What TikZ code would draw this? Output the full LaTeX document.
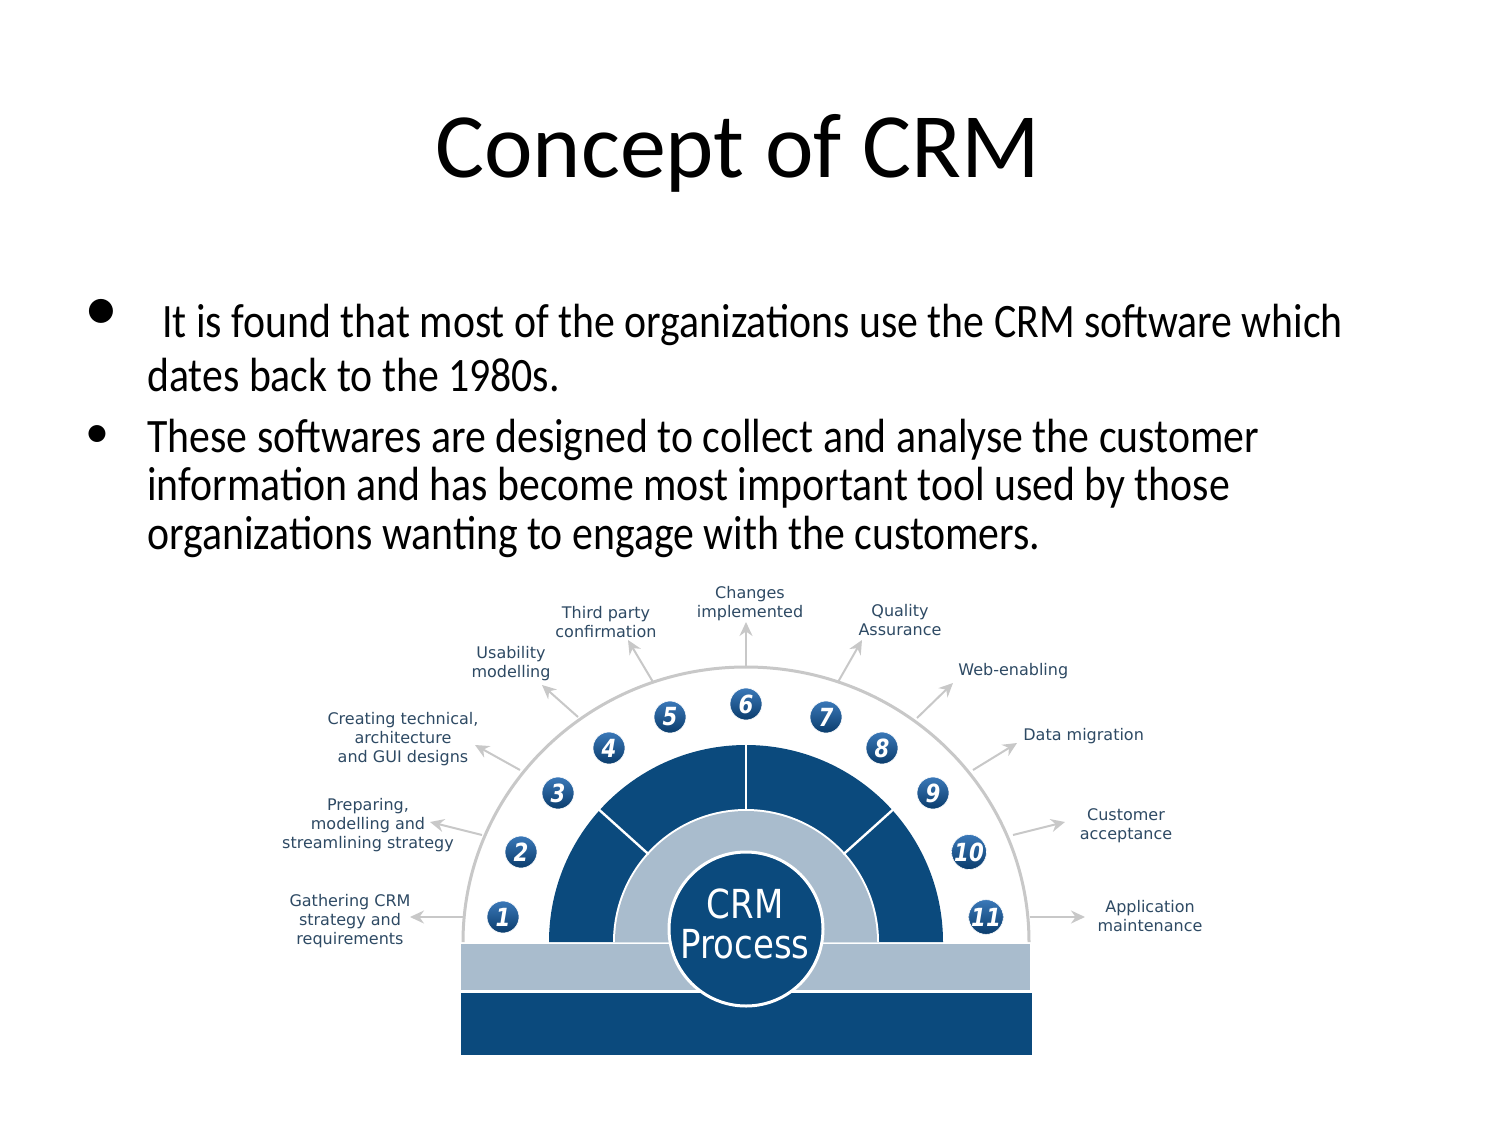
\documentclass[tikz,border=0pt]{standalone}
\usepackage{fontspec}
\setmainfont{Carlito}
\newfontfamily\bodyf[FakeStretch=0.87]{Carlito}
\newfontfamily\lab{DejaVu Sans}
\newfontfamily\labc[FakeStretch=0.85]{DejaVu Sans}
\usetikzlibrary{arrows.meta}
\definecolor{navy}{HTML}{0B4A7D}
\definecolor{lightb}{HTML}{A9BCCD}
\definecolor{labc}{HTML}{2E4A64}
\definecolor{arcg}{HTML}{C8C8C8}
\definecolor{ballt}{HTML}{3A78B8}
\definecolor{ballb}{HTML}{0A3C6C}
\tikzset{
  lbl/.style={align=center, text=labc, font=\lab\fontsize{8}{9.5}\selectfont, inner sep=0pt},
  arr/.style={draw=arcg, line width=1pt, -{Stealth[length=7pt,width=6.5pt]}},
  ball/.style={circle, minimum size=16pt, inner sep=0pt, top color=ballt, bottom color=ballb, draw=white, line width=0.3pt, text=white, font=\labc\fontsize{12.5}{12.5}\selectfont\bfseries\itshape},
  body/.style={anchor=base west, inner sep=0pt, font=\bodyf\fontsize{24}{28}\selectfont},
  divider/.style={draw=white, line width=1.2pt}
}
\begin{document}
\begin{tikzpicture}[x=0.5pt,y=0.5pt]
\useasboundingbox[fill=white] (0,0) rectangle (1500,-1125);

% title and bullets
\node[anchor=base, inner sep=0pt, font=\fontsize{46}{56}\selectfont] (title) at (738,-177) {Concept of CRM};
\node[anchor=base, inner sep=0pt, font=\fontsize{34}{34}\selectfont] (b1) at (101,-330) {•};
\node[body] (t1a) at (162,-337) {It is found that most of the organizations use the CRM software which};
\node[body] (t1b) at (147,-391) {dates back to the 1980s.};
\node[anchor=base, inner sep=0pt, font=\fontsize{24}{28}\selectfont] (b2) at (97,-447) {•};
\node[body] (t2a) at (147,-452) {These softwares are designed to collect and analyse the customer};
\node[body] (t2b) at (147,-500) {information and has become most important tool used by those};
\node[body] (t2c) at (147,-549) {organizations wanting to engage with the customers.};

% outer grey arc
\draw[arcg, line width=1.5pt] (463,-942) arc[start angle=180, end angle=0, x radius=283, y radius=275];

% dark ring
\fill[navy] (549,-942) arc[start angle=180, end angle=0, radius=197] -- cycle;
\fill[white] (613,-942) arc[start angle=180, end angle=0, radius=133] -- cycle;
\fill[lightb] (615,-942) arc[start angle=180, end angle=0, radius=131] -- cycle;
\draw[divider] (746,-942) ++(42:131) -- ++(42:68);
\draw[divider] (746,-942) ++(90:131) -- ++(90:68);
\draw[divider] (746,-942) ++(138:131) -- ++(138:68);

% bars
\fill[lightb] (461,-944) rectangle (1030,-990);
\fill[navy] (461,-993) rectangle (1032,-1055);

% central circle
\node[circle, minimum size=77pt, inner sep=0pt, fill=navy, draw=white, line width=1.5pt] (hub) at (746,-929) {};
\node[anchor=base, inner sep=0pt, text=white, font=\labc\fontsize{20}{20}\selectfont] (crm) at (745,-918) {CRM};
\node[anchor=base, inner sep=0pt, text=white, font=\labc\fontsize{20}{20}\selectfont] (proc) at (745,-958) {Process};

% numbered balls
\node[ball] (n1) at (503,-917) {1};
\node[ball] (n2) at (521,-852) {2};
\node[ball] (n3) at (558,-793) {3};
\node[ball] (n4) at (609,-748) {4};
\node[ball] (n5) at (670,-717) {5};
\node[ball] (n6) at (746,-704) {6};
\node[ball] (n7) at (826,-717) {7};
\node[ball] (n8) at (882,-748) {8};
\node[ball] (n9) at (933,-793) {9};
\node[ball] (n10) at (969,-852) {10};
\node[ball] (n11) at (986,-917) {11};

% labels
\node[lbl] (l1) at (350,-921) {Gathering CRM\\strategy and\\requirements};
\node[lbl] (l2) at (368,-825) {Preparing,\\modelling and\\streamlining strategy};
\node[lbl] (l3) at (403,-739) {Creating technical,\\architecture\\and GUI designs};
\node[lbl] (l4) at (511,-664) {Usability\\modelling};
\node[lbl] (l5) at (606,-622) {Third party\\confirmation};
\node[lbl] (l6) at (750,-604) {Changes\\implemented};
\node[lbl] (l7) at (900,-620) {Quality\\Assurance};
\node[lbl, anchor=west] (l8) at (958,-671) {Web-enabling};
\node[lbl, anchor=west] (l9) at (1023,-736) {Data migration};
\node[lbl] (l10) at (1126,-826) {Customer\\acceptance};
\node[lbl] (l11) at (1150,-916) {Application\\maintenance};

% arrow coordinates
\coordinate (s1) at (463,-917);  \coordinate (e1) at (410,-917);
\coordinate (s2) at (482,-835);  \coordinate (e2) at (430,-822);
\coordinate (s3) at (520,-770);  \coordinate (e3) at (475,-745);
\coordinate (s4) at (578,-717);  \coordinate (e4) at (542,-685);
\coordinate (s5) at (653,-682);  \coordinate (e5) at (628,-640);
\coordinate (s6) at (746,-668);  \coordinate (e6) at (746,-622);
\coordinate (s7) at (838,-682);  \coordinate (e7) at (862,-640);
\coordinate (s8) at (917,-718);  \coordinate (e8) at (953,-683);
\coordinate (s9) at (973,-770);  \coordinate (e9) at (1017,-743);
\coordinate (s10) at (1013,-835); \coordinate (e10) at (1065,-822);
\coordinate (s11) at (1030,-917); \coordinate (e11) at (1085,-917);
\foreach \i in {1,...,11} { \draw[arr] (s\i) -- (e\i); }
\end{tikzpicture}
\end{document}
